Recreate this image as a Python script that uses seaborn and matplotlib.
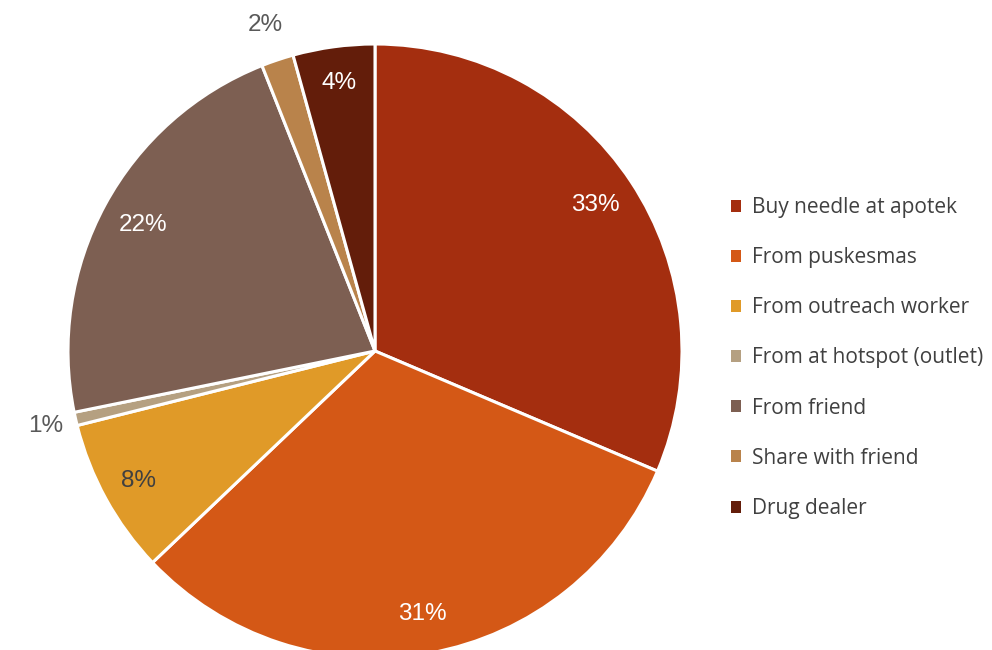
import numpy as np
import matplotlib
matplotlib.use("Agg")
import matplotlib.pyplot as plt
import seaborn as sns
from matplotlib.patches import Patch

# =========================
# DATA
# =========================

categories = [
    "Buy needle at apotek",
    "From puskesmas",
    "From outreach worker",
    "From at hotspot (outlet)",
    "From friend",
    "Share with friend",
    "Drug dealer",
]

# slice shares (percent)
shares = [31.4, 31.5, 8.2, 0.7, 22.2, 1.7, 4.3]

# data labels as printed on the chart
pct_labels = ["33%", "31%", "8%", "1%", "22%", "2%", "4%"]

colors = ["#A42E0F", "#D45816", "#E09A28", "#B5A081", "#7D5F52", "#B9834B", "#631D0A"]

# =========================
# PLOT
# =========================

sns.set_theme(style="white")
plt.rcParams['font.family'] = ['Liberation Sans', 'DejaVu Sans']

fig = plt.figure(figsize=(9.92, 6.5), dpi=100)

# pie centre ~ (375, 351) px, radius ~ 307 px
ax = fig.add_axes([(375 - 307) / 992, (650 - 351 - 307) / 650, 614 / 992, 614 / 650])

wedges, _ = ax.pie(
    shares,
    colors=colors,
    startangle=90,
    counterclock=False,
    radius=1,
    wedgeprops=dict(edgecolor="white", linewidth=2.2),
)

ax.set_xlim(-1, 1)
ax.set_ylim(-1, 1)
ax.set_aspect("equal")
ax.axis("off")

# data labels
label_colors = ["white", "white", "#404040", "#595959", "white", "#595959", "white"]
label_dist = [0.86, 0.87, 0.88, 1.10, 0.86, 1.12, 0.88]

for w, txt, c, d in zip(wedges, pct_labels, label_colors, label_dist):
    mid = np.deg2rad((w.theta1 + w.theta2) / 2)
    ax.text(
        d * np.cos(mid),
        d * np.sin(mid),
        txt,
        ha="center",
        va="center",
        fontsize=17.5,
        color=c,
        clip_on=False,
    )

# =========================
# LEGEND
# =========================

handles = [Patch(facecolor=c, edgecolor="none") for c in colors]

leg = fig.legend(
    handles,
    categories,
    loc="upper left",
    bbox_to_anchor=(731 / 992, 1 - 197 / 650),
    frameon=False,
    prop={"family": "Open Sans", "size": 15},
    labelcolor="#404040",
    handlelength=0.5,
    handleheight=0.5,
    handletextpad=0.5,
    labelspacing=1.4,
    borderpad=0,
    borderaxespad=0,
)

fig.savefig("out.png", dpi=100)
